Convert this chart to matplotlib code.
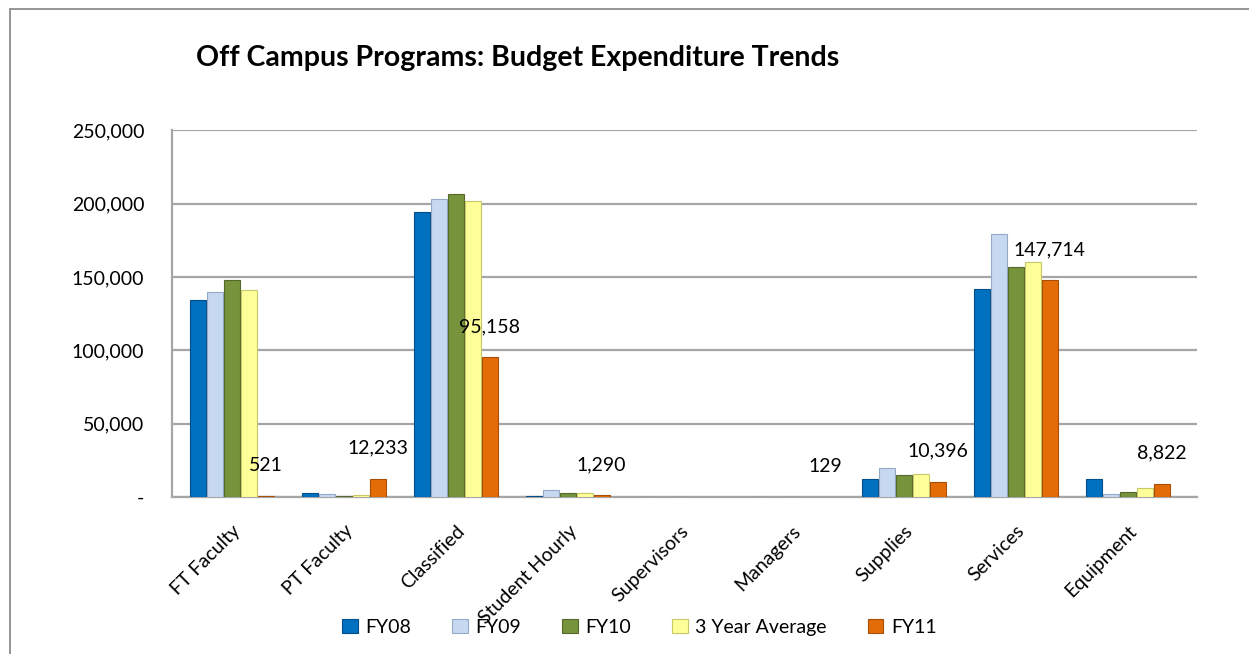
import numpy as np
import matplotlib.pyplot as plt
from matplotlib.patches import Rectangle
from matplotlib.ticker import FuncFormatter

# values (FY11 ones are printed on it)
categories = ["FT Faculty", "PT Faculty", "Classified", "Student Hourly", "Supervisors",
              "Managers", "Supplies", "Services", "Equipment"]
series_names = ["FY08", "FY09", "FY10", "3 Year Average", "FY11"]
fy08 = [134000, 2500, 194000, 500, 0, 300, 12500, 142000, 12500]
fy09 = [139500, 2000, 203000, 4500, 0, 300, 20000, 179500, 2000]
fy10 = [148000, 500, 206500, 2500, 0, 300, 15000, 157000, 3500]
avg3 = [141000, 1700, 202000, 3000, 0, 300, 16000, 160000, 6000]
fy11 = [521, 12233, 95158, 1290, 0, 129, 10396, 147714, 8822]
fy11_labels = ["521", "12,233", "95,158", "1,290", "", "129", "10,396", "147,714", "8,822"]

colors = ["#0070C0", "#C6D9F1", "#77933C", "#FFFF99", "#E36C09"]
edges = ["#004F8A", "#93A9C6", "#55692A", "#C8C86A", "#A84E05"]

plt.rcParams['font.family'] = ['Lato', 'DejaVu Sans']

fig = plt.figure(figsize=(12.49, 6.54), dpi=100)
ax = fig.add_axes([0.1377, 0.240, 0.8207, 0.561])

# outer chart frame
fig.patches.append(Rectangle((10 / 1249, -0.1), 1.2, 1.1 - 9 / 654, transform=fig.transFigure,
                             fill=False, edgecolor="#8c8c8c", linewidth=1.3))

x = np.arange(len(categories))
w = 0.15
all_series = [fy08, fy09, fy10, avg3, fy11]
for i, vals in enumerate(all_series):
    ax.bar(x + (i - 2) * w, vals, width=w * 0.95, color=colors[i], edgecolor=edges[i],
           linewidth=0.8, label=series_names[i], zorder=3)

for xi, v, lab in zip(x, fy11, fy11_labels):
    if lab:
        ax.annotate(lab, (xi + 2 * w, v), xytext=(0, 16), textcoords="offset points",
                    ha="center", va="bottom", fontsize=14, zorder=4)

ax.set_xlim(-0.536, 8.616)
ax.set_ylim(0, 250000)
ax.set_yticks(np.arange(0, 250001, 50000))
ax.yaxis.set_major_formatter(FuncFormatter(lambda v, p: "-" if v == 0 else f"{int(v):,}"))
ax.set_xticks(x)
ax.set_xticklabels(categories, rotation=45, ha="right", rotation_mode="anchor")
ax.tick_params(axis="both", length=0, labelsize=14)
ax.tick_params(axis="y", pad=20)
ax.tick_params(axis="x", pad=18)
ax.grid(axis="y", color="#a6a6a6", linewidth=1.6, zorder=0)
for s in ["top", "right"]:
    ax.spines[s].set_visible(False)
ax.spines["left"].set_color("#a6a6a6")
ax.spines["left"].set_linewidth(1.6)
ax.spines["bottom"].set_color("#a6a6a6")
ax.spines["bottom"].set_linewidth(1.6)

fig.text(0.157, 0.912, "Off Campus Programs: Budget Expenditure Trends", fontsize=20.5,
         fontweight="bold", va="center", ha="left")

fig.legend(loc="center", bbox_to_anchor=(0.512, 0.041), ncol=5, frameon=False, fontsize=14,
           handlelength=0.8, handleheight=0.8, handletextpad=0.4, columnspacing=2.1)

fig.savefig("out.png", dpi=100)
